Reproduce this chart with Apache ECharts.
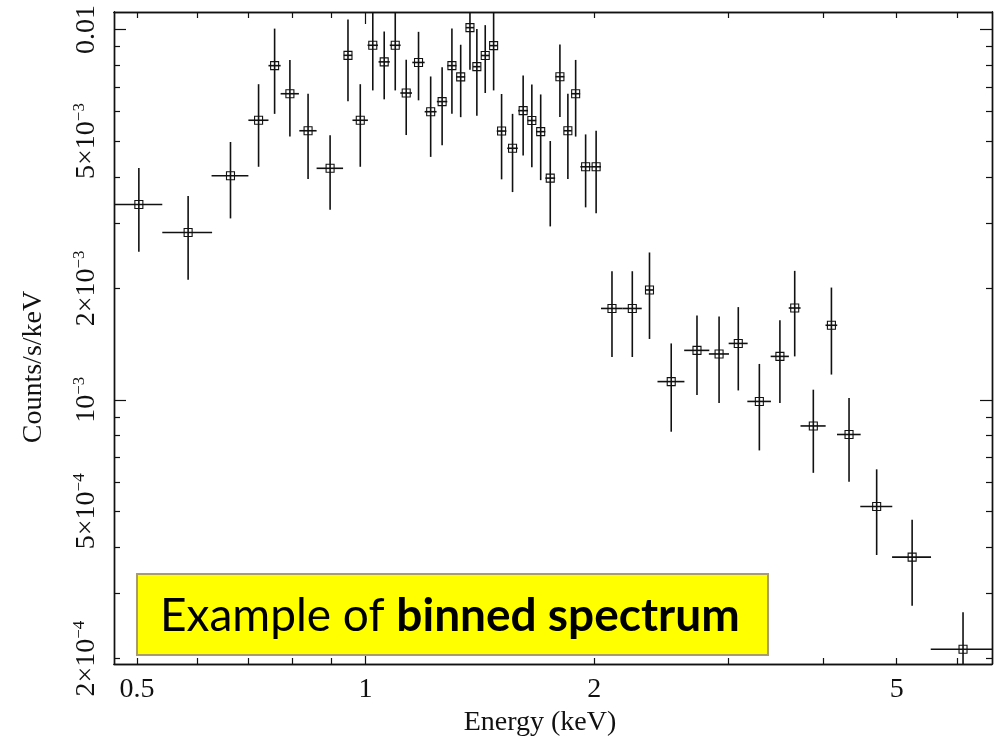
<!DOCTYPE html>
<html>
<head>
<meta charset="utf-8">
<script src="https://cdn.jsdelivr.net/npm/echarts@6/dist/echarts.min.js"></script>
<style>
html,body{margin:0;padding:0;background:#fff;}
#chart{width:1001px;height:736px;}
</style>
</head>
<body>
<div id="chart"></div>
<script>
// ---- data ----
const energy = [0.503,0.584,0.664,0.723,0.759,0.795,0.840,0.898,0.948,0.984,
  1.022,1.058,1.094,1.131,1.174,1.218,1.261,1.299,1.334,1.372,
  1.401,1.437,1.474,1.510,1.561,1.612,1.655,1.700,1.750,1.802,
  1.846,1.890,1.948,2.011,2.110,2.244,2.364,2.525,2.730,2.919,
  3.094,3.298,3.510,3.671,3.884,4.103,4.328,4.706,5.240,6.114];
const energyErr = [0.037,0.044,0.037,0.022,0.014,0.022,0.022,0.036,0.012,0.023,
  0.016,0.018,0.018,0.020,0.022,0.022,0.020,0.018,0.018,0.017,
  0.016,0.018,0.018,0.022,0.025,0.024,0.022,0.024,0.026,0.024,
  0.022,0.026,0.031,0.030,0.069,0.065,0.030,0.103,0.104,0.089,
  0.089,0.118,0.097,0.066,0.148,0.073,0.155,0.228,0.309,0.570];
const rate = [0.00337,0.00283,0.00403,0.00569,0.00799,0.00671,0.00533,0.00422,0.00852,0.00569,
  0.00907,0.00818,0.00907,0.00674,0.00815,0.00600,0.00639,0.00799,0.00745,0.01012,
  0.00794,0.00851,0.00905,0.00532,0.00478,0.00604,0.00568,0.00530,0.00397,0.00746,
  0.00533,0.00671,0.00426,0.00426,0.001765,0.001765,0.00198,0.00112,0.00136,0.00133,
  0.00142,0.00099,0.00131,0.00177,0.00085,0.00159,0.000806,0.000515,0.000376,0.000212];
const rateErr = [0.00086,0.00072,0.00094,0.00143,0.00207,0.00157,0.00138,0.00096,0.00212,0.00143,
  0.00222,0.00170,0.00222,0.00155,0.00171,0.00147,0.00152,0.00207,0.00165,0.00233,
  0.00209,0.00177,0.00220,0.00138,0.00114,0.00147,0.00143,0.00138,0.00103,0.00165,
  0.00138,0.00157,0.00095,0.00107,0.00046,0.00046,0.00052,0.00030,0.00033,0.00035,
  0.00036,0.00026,0.00033,0.00046,0.000215,0.00042,0.000205,0.000134,0.000098,0.000055];

const xMinorTicks = [0.5,0.6,0.7,0.8,0.9,2,3,4,5,6];
const xMajorTicks = [1];
const xLabelValues = [0.5,1,2,5];
const xLabelTexts = ['0.5','1','2','5'];
const yMinorTicks = [2e-4,3e-4,4e-4,5e-4,6e-4,7e-4,8e-4,9e-4,2e-3,3e-3,4e-3,5e-3,6e-3,7e-3,8e-3,9e-3];
const yMajorTicks = [1e-3,1e-2];
const yLabelValues = [2e-4,5e-4,1e-3,2e-3,5e-3,1e-2];
const yLabelTexts = ['{b|2×10}{s|−4}','{b|5×10}{s|−4}','{b|10}{s|−3}','{b|2×10}{s|−3}','{b|5×10}{s|−3}','{b|0.01}'];

const xRange = [0.4665, 6.675];
const yRange = [1.934e-4, 1.1155e-2];

// ---- build ----
const L = Math.log10;
const lg = a => a.map(L);
const seriesData = energy.map((e, i) => [L(e), e, energyErr[i], L(rate[i]), rate[i], rateErr[i]]);

function pick(values, texts) {
  return function (v) {
    for (let i = 0; i < values.length; i++) {
      if (Math.abs(L(values[i]) - v) < 1e-6) return texts[i];
    }
    return '';
  };
}

const serif = 'Liberation Serif';
const lineCol = '#111';

function xAx(pos, ticks, len, withLabel, extra) {
  return Object.assign({
    type: 'value', position: pos, min: L(xRange[0]), max: L(xRange[1]),
    axisLine: {show: true, onZero: false, lineStyle: {color: lineCol, width: 1.4}},
    axisTick: {show: true, inside: true, length: len, customValues: lg(ticks), lineStyle: {color: lineCol, width: 1.2}},
    axisLabel: withLabel ? {
      show: true, customValues: lg(xLabelValues), formatter: pick(xLabelValues, xLabelTexts),
      fontFamily: serif, fontSize: 28, color: '#111', margin: 12
    } : {show: false},
    splitLine: {show: false}
  }, extra || {});
}
function yAx(pos, ticks, len, withLabel, extra) {
  return Object.assign({
    type: 'value', position: pos, min: L(yRange[0]), max: L(yRange[1]),
    axisLine: {show: true, onZero: false, lineStyle: {color: lineCol, width: 1.4}},
    axisTick: {show: true, inside: true, length: len, customValues: lg(ticks), lineStyle: {color: lineCol, width: 1.2}},
    axisLabel: withLabel ? {
      show: true, rotate: 90, customValues: lg(yLabelValues), formatter: pick(yLabelValues, yLabelTexts),
      margin: 13,
      rich: {
        b: {fontFamily: serif, fontSize: 28, color: '#111', lineHeight: 30, verticalAlign: 'bottom'},
        s: {fontFamily: serif, fontSize: 17, color: '#111', lineHeight: 17, verticalAlign: 'top'}
      }
    } : {show: false},
    splitLine: {show: false}
  }, extra || {});
}

const chart = echarts.init(document.getElementById('chart'), null, {renderer: 'canvas'});
chart.setOption({
  animation: false,
  backgroundColor: '#fff',
  grid: {left: 114, right: 9, top: 12, bottom: 72, containLabel: false, outerBoundsMode: 'none'},
  xAxis: [
    xAx('bottom', xMinorTicks, 6, true, {
      name: 'Energy (keV)', nameLocation: 'middle', nameGap: 43,
      nameTextStyle: {fontFamily: serif, fontSize: 28, color: '#111', padding: [0, 26, 0, 0]}
    }),
    xAx('top', xMinorTicks, 6, false),
    xAx('bottom', xMajorTicks, 12, false),
    xAx('top', xMajorTicks, 12, false)
  ],
  yAxis: [
    yAx('left', yMinorTicks, 6, true, {
      name: 'Counts/s/keV', nameLocation: 'middle', nameGap: 66,
      nameTextStyle: {fontFamily: serif, fontSize: 28, color: '#111', padding: [0, 58, 0, 0]}
    }),
    yAx('right', yMinorTicks, 6, false),
    yAx('left', yMajorTicks, 12, false),
    yAx('right', yMajorTicks, 12, false)
  ],
  series: [{
    type: 'custom',
    clip: true,
    xAxisIndex: 0, yAxisIndex: 0,
    encode: {x: 0, y: 3},
    data: seriesData,
    renderItem: function (params, api) {
      const e = api.value(1), de = api.value(2), r = api.value(4), dr = api.value(5);
      const c = api.coord([L(e), L(r)]);
      const xl = api.coord([L(e - de), L(r)]);
      const xr = api.coord([L(e + de), L(r)]);
      const yt = api.coord([L(e), L(r + dr)]);
      const yb = api.coord([L(e), L(r - dr)]);
      const st = {stroke: '#111', lineWidth: 1.6, fill: null};
      const s = 8;
      return {
        type: 'group',
        children: [
          {type: 'line', shape: {x1: xl[0], y1: c[1], x2: xr[0], y2: c[1]}, style: st},
          {type: 'line', shape: {x1: c[0], y1: yt[1], x2: c[0], y2: yb[1]}, style: st},
          {type: 'rect', shape: {x: c[0] - s / 2, y: c[1] - s / 2, width: s, height: s},
            style: {stroke: '#111', lineWidth: 1.1, fill: null}}
        ]
      };
    }
  }],
  graphic: [{
    type: 'group',
    children: [
      {type: 'rect', shape: {x: 137, y: 574, width: 631, height: 81},
        style: {fill: '#FFFF00', stroke: '#A89C6C', lineWidth: 2}, z: 100},
      {type: 'text', x: 160, y: 616, z: 101,
        style: {
          text: '{n|Example of }{bb|binned spectrum}',
          verticalAlign: 'middle', align: 'left',
          rich: {
            n: {fontFamily: 'Lato', fontSize: 46, fill: '#000'},
            bb: {fontFamily: 'Lato', fontSize: 46, fontWeight: 'bold', fill: '#000'}
          }
        }}
    ]
  }]
});
</script>
</body>
</html>
